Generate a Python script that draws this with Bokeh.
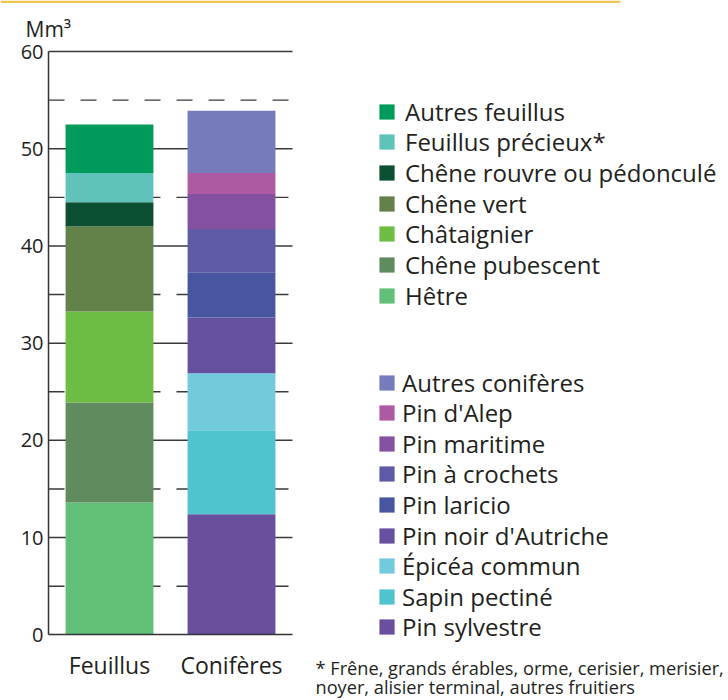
from bokeh.plotting import figure
from bokeh.models import (ColumnDataSource, FixedTicker, Legend, LegendItem, Label,
                          BoxAnnotation, Range1d)
from bokeh.embed import file_html
from bokeh.resources import INLINE

FONT = "Open Sans"
TXT = "#231f20"

categories = ["Feuillus", "Conifères"]

# Feuillus (bottom -> top)
feuillus_names = ["Hêtre", "Chêne pubescent", "Châtaignier", "Chêne vert",
                  "Chêne rouvre ou pédonculé", "Feuillus précieux*", "Autres feuillus"]
feuillus_values = [13.6, 10.3, 9.35, 8.75, 2.5, 3.0, 5.0]
feuillus_colors = ["#62bf77", "#5f8b5e", "#6dbd45", "#63824a", "#0d4f32", "#5fc3bb", "#009b5a"]

# Conifères (bottom -> top)
coniferes_names = ["Pin sylvestre", "Sapin pectiné", "Épicéa commun", "Pin noir d'Autriche",
                   "Pin laricio", "Pin à crochets", "Pin maritime", "Pin d'Alep", "Autres conifères"]
coniferes_values = [12.4, 8.65, 5.85, 5.75, 4.65, 4.45, 3.6, 2.15, 6.4]
coniferes_colors = ["#6a4f9f", "#4fc4cf", "#72cbdc", "#6651a0", "#4856a2", "#5e5aa5",
                    "#83519f", "#ad5aa2", "#757bbb"]

y_ticks = [0, 10, 20, 30, 40, 50, 60]
y_half_ticks = [5, 15, 25, 35, 45, 55]
y_unit = "Mm³"
footnote = ["* Frêne, grands érables, orme, cerisier, merisier,",
            "noyer, alisier terminal, autres fruitiers"]

W, H = 728, 700
X0_PX, Y0_PX, Y60_PX = 48, 634.3, 51
PX_PER_CAT = 122
py = (Y0_PX - Y60_PX) / 60.0

n = len(categories)
centers = [i + 0.5 for i in range(n)]

data = {"x": centers}
keys_f, keys_c = [], []
for i, v in enumerate(feuillus_values):
    k = f"f{i}"
    data[k] = [v, 0]
    keys_f.append(k)
for i, v in enumerate(coniferes_values):
    k = f"c{i}"
    data[k] = [0, v]
    keys_c.append(k)
source = ColumnDataSource(data)

p = figure(width=W, height=H, output_backend="svg", toolbar_location=None,
           x_range=Range1d(-X0_PX / PX_PER_CAT, (W - X0_PX) / PX_PER_CAT),
           y_range=Range1d(-(H - Y0_PX) / py, 60 + Y60_PX / py),
           min_border=0)
p.outline_line_color = None
p.grid.visible = False
p.background_fill_color = "white"

# grid lines (only across the bar area)
p.segment(x0=0, x1=n, y0=y_ticks[1:], y1=y_ticks[1:], line_color="#3a3a3a", line_width=1.5)
p.segment(x0=0, x1=n, y0=y_half_ticks, y1=y_half_ticks, line_color="#3a3a3a",
          line_width=1.4, line_dash="16 16")

rf = p.vbar_stack(keys_f, x="x", width=0.72, color=feuillus_colors,
                  line_color=None, source=source)
rc = p.vbar_stack(keys_c, x="x", width=0.72, color=coniferes_colors,
                  line_color=None, source=source)

# axes
p.yaxis.fixed_location = 0
p.yaxis.bounds = (0, 60)
p.yaxis.ticker = FixedTicker(ticks=y_ticks)
p.yaxis.major_tick_line_color = None
p.yaxis.major_tick_out = 0
p.yaxis.major_tick_in = 0
p.yaxis.minor_tick_line_color = None
p.yaxis.axis_line_color = "#333333"
p.yaxis.axis_line_width = 1.5
p.yaxis.major_label_text_font = FONT
p.yaxis.major_label_text_font_size = "20px"
p.yaxis.major_label_text_color = TXT
p.yaxis.major_label_standoff = 5

p.xaxis.fixed_location = 0
p.xaxis.bounds = (0, n)
p.xaxis.ticker = FixedTicker(ticks=centers)
p.xaxis.major_label_overrides = {c: lab for c, lab in zip(centers, categories)}
p.xaxis.major_tick_line_color = None
p.xaxis.major_tick_out = 0
p.xaxis.major_tick_in = 0
p.xaxis.minor_tick_line_color = None
p.xaxis.axis_line_color = "#333333"
p.xaxis.axis_line_width = 1.5
p.xaxis.major_label_text_font = FONT
p.xaxis.major_label_text_font_size = "23px"
p.xaxis.major_label_text_color = TXT
p.xaxis.major_label_standoff = 14

# legends: one entry per Legend so the row pitch matches the reference
common = dict(glyph_width=19, glyph_height=19, label_height=19, spacing=0, padding=0,
              margin=0, border_line_color=None, background_fill_alpha=0,
              label_text_font=FONT, label_text_font_size="24px", label_text_color=TXT)
ITEM_H = 33


def add_legend_column(names, renderers, first_center_y, pitch, standoff):
    pairs = list(reversed(list(zip(names, renderers))))
    for i, (nm, r) in enumerate(pairs):
        cy = first_center_y + i * pitch
        bottom = H - (cy + ITEM_H / 2.0)
        p.add_layout(Legend(items=[LegendItem(label=nm, renderers=[r])],
                            location=(377, bottom), label_standoff=standoff, **common))


add_legend_column(feuillus_names, rf, 111, 30.67, 9)
add_legend_column(coniferes_names, rc, 382, 30.6, 6)

p.add_layout(Label(x=25, y=H - 28, x_units="screen", y_units="screen", text=y_unit,
                   text_font=FONT, text_font_size="21px", text_color=TXT,
                   text_baseline="middle"))
p.add_layout(Label(x=315, y=H - 667, x_units="screen", y_units="screen", text=footnote[0],
                   text_font=FONT, text_font_size="18.2px", text_color=TXT,
                   text_baseline="middle"))
p.add_layout(Label(x=315, y=H - 686, x_units="screen", y_units="screen", text=footnote[1],
                   text_font=FONT, text_font_size="18.2px", text_color=TXT,
                   text_baseline="middle"))

# decorative yellow rule at the top
p.add_layout(BoxAnnotation(left=0, right=620, top=H, bottom=H - 2.5,
                           left_units="screen", right_units="screen",
                           top_units="screen", bottom_units="screen",
                           fill_color="#f2c552", fill_alpha=1, line_color=None))

open("out.html", "w").write(file_html(p, INLINE))
